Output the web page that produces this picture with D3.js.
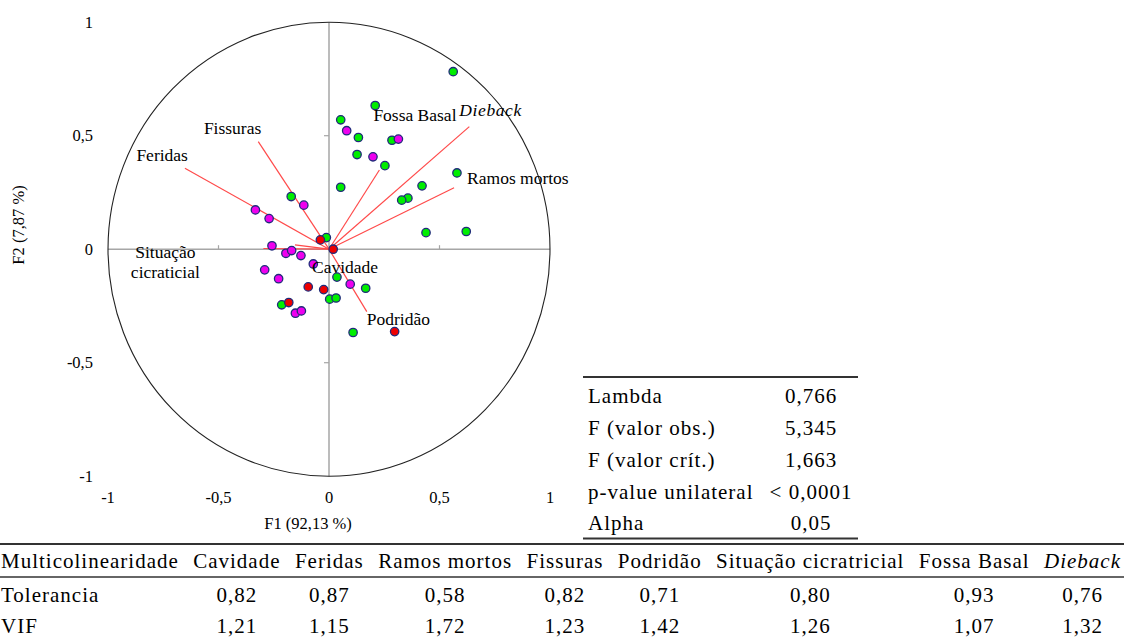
<!DOCTYPE html>
<html>
<head>
<meta charset="utf-8">
<script src="https://cdn.jsdelivr.net/npm/d3@7"></script>
<style>
  body { margin: 0; background: #fff; }
  svg { display: block; }
  text { font-family: "Liberation Serif", "Times New Roman", serif; fill: #000; }
  .tbl { font-size: 21px; letter-spacing: 1px; }
</style>
</head>
<body>
<svg id="chart" width="1124" height="637"></svg>
<script>
// variables (table order) and their loadings on F1 / F2
const variables = ["Cavidade", "Feridas", "Ramos mortos", "Fissuras", "Podridão", "Situação cicratricial", "Fossa Basal", "Dieback"];
const chartLabels = ["Cavidade", "Feridas", "Ramos mortos", "Fissuras", "Podridão", "Situação\ncicraticial", "Fossa Basal", "Dieback"];
const loadF1 = [-0.154, -0.652, 0.566, -0.320, 0.171, -0.297, 0.228, 0.635];
const loadF2 = [0.019, 0.357, 0.271, 0.474, -0.275, 0.003, 0.349, 0.540];

// observations, by group
const greenF1 = [0.562, 0.209, 0.053, 0.133, 0.285, 0.127, 0.253, 0.579, 0.421, 0.357, 0.329, 0.053, 0.439, 0.621, -0.171, -0.012, 0.036, 0.166, 0.003, 0.032, -0.214, 0.109];
const greenF2 = [0.782, 0.633, 0.570, 0.492, 0.480, 0.417, 0.368, 0.336, 0.279, 0.225, 0.216, 0.273, 0.073, 0.078, 0.232, 0.051, -0.123, -0.172, -0.220, -0.215, -0.245, -0.367];
const magentaF1 = [0.080, 0.314, 0.199, -0.114, -0.333, -0.271, -0.258, -0.195, -0.169, -0.127, -0.071, -0.291, -0.228, 0.096, -0.152, -0.125];
const magentaF2 = [0.522, 0.485, 0.407, 0.194, 0.173, 0.135, 0.015, -0.018, -0.006, -0.028, -0.065, -0.091, -0.130, -0.154, -0.282, -0.272];
const redF1 = [-0.039, 0.019, -0.094, -0.024, -0.182, 0.297];
const redF2 = [0.041, 0.000, -0.166, -0.178, -0.235, -0.363];

const axisTicks = [-1, -0.5, 0, 0.5, 1];

// test table
const statNames = ["Lambda", "F (valor obs.)", "F (valor crít.)", "p-value unilateral", "Alpha"];
const statValues = ["0,766", "5,345", "1,663", "< 0,0001", "0,05"];

// multicollinearity table
const tolerancia = ["0,82", "0,87", "0,58", "0,82", "0,71", "0,80", "0,93", "0,76"];
const vif = ["1,21", "1,15", "1,72", "1,23", "1,42", "1,26", "1,07", "1,32"];

// label placement next to vector ends: [dx, dy, anchor]
const labelPlace = [[17, 22, "start"], [3, -13, "end"], [13, -10, "start"], [3, -14, "end"],
                    [0, 7, "start"], [-98, 3, "middle"], [-6, -55, "start"], [-10, -17, "start"]];

const svg = d3.select("#chart");
const fmt = v => String(v).replace(".", ",");

const x = d3.scaleLinear().domain([-1, 1]).range([108, 550]);
const y = d3.scaleLinear().domain([-1, 1]).range([476.2, 22.2]);

// axes through the origin
svg.append("line").attr("x1", x(-1)).attr("x2", x(1)).attr("y1", y(0)).attr("y2", y(0))
  .attr("stroke", "#a6a6a6").attr("stroke-width", 1.5);
svg.append("line").attr("x1", x(0)).attr("x2", x(0)).attr("y1", y(-1)).attr("y2", y(1))
  .attr("stroke", "#a6a6a6").attr("stroke-width", 1.5);
svg.append("g").selectAll("line").data([-0.5, 0.5]).enter().append("line")
  .attr("x1", d => x(d)).attr("x2", d => x(d)).attr("y1", y(0)).attr("y2", y(0) - 4)
  .attr("stroke", "#a6a6a6").attr("stroke-width", 1.2);
svg.append("g").selectAll("line").data([-0.5, 0.5]).enter().append("line")
  .attr("x1", x(0) - 5).attr("x2", x(0)).attr("y1", d => y(d)).attr("y2", d => y(d))
  .attr("stroke", "#a6a6a6").attr("stroke-width", 1.2);

// correlation circle
svg.append("ellipse").attr("cx", x(0)).attr("cy", y(0))
  .attr("rx", x(1) - x(0)).attr("ry", y(-1) - y(0))
  .attr("fill", "none").attr("stroke", "#222").attr("stroke-width", 1.1);

// tick labels
svg.append("g").selectAll("text").data(axisTicks).enter().append("text")
  .attr("x", d => x(d)).attr("y", 497).attr("dy", "0.35em")
  .attr("text-anchor", "middle").attr("font-size", 16.5).text(fmt);
svg.append("g").selectAll("text").data(axisTicks).enter().append("text")
  .attr("x", 93).attr("y", d => y(d)).attr("dy", "0.35em")
  .attr("text-anchor", "end").attr("font-size", 16.5).text(fmt);

// axis titles
svg.append("text").attr("x", 308).attr("y", 523).attr("dy", "0.35em")
  .attr("text-anchor", "middle").attr("font-size", 16.5).text("F1 (92,13 %)");
svg.append("text").attr("transform", "translate(18,225) rotate(-90)").attr("dy", "0.35em")
  .attr("text-anchor", "middle").attr("font-size", 16.5).text("F2 (7,87 %)");

// variable vectors
const vec = variables.map((v, i) => ({ name: chartLabels[i], f1: loadF1[i], f2: loadF2[i], place: labelPlace[i] }));
svg.append("g").selectAll("line").data(vec).enter().append("line")
  .attr("x1", x(0)).attr("y1", y(0))
  .attr("x2", d => x(d.f1)).attr("y2", d => y(d.f2))
  .attr("stroke", "#ff4a4a").attr("stroke-width", 1.2);

// observations
const groups = [
  { f1: greenF1, f2: greenF2, color: "#00ee00" },
  { f1: magentaF1, f2: magentaF2, color: "#ee00ee" },
  { f1: redF1, f2: redF2, color: "#ee0000" }
];
groups.forEach(g => {
  svg.append("g").selectAll("circle").data(g.f1.map((v, i) => [v, g.f2[i]])).enter().append("circle")
    .attr("cx", d => x(d[0])).attr("cy", d => y(d[1])).attr("r", 4.2)
    .attr("fill", g.color).attr("stroke", "#1f2a7a").attr("stroke-width", 1.3);
});

// vector labels
const lab = svg.append("g").selectAll("text").data(vec).enter().append("text")
  .attr("x", d => x(d.f1) + d.place[0]).attr("y", d => y(d.f2) + d.place[1])
  .attr("text-anchor", d => d.place[2]).attr("font-size", 17.5)
  .attr("font-style", d => d.name === "Dieback" ? "italic" : null)
  .attr("letter-spacing", d => d.name === "Dieback" ? 0.6 : null);
lab.each(function (d) {
  const lines = d.name.split("\n");
  d3.select(this).selectAll("tspan").data(lines).enter().append("tspan")
    .attr("x", x(d.f1) + d.place[0])
    .attr("dy", (l, i) => i === 0 ? "0.35em" : "1.15em")
    .text(l => l);
});

// statistics table
const st = svg.append("g");
st.append("line").attr("x1", 583).attr("x2", 858).attr("y1", 377).attr("y2", 377).attr("stroke", "#333").attr("stroke-width", 1.8);
st.append("line").attr("x1", 583).attr("x2", 858).attr("y1", 538.5).attr("y2", 538.5).attr("stroke", "#333").attr("stroke-width", 1.8);
const rowY = d3.scalePoint().domain(statNames).range([396, 523]);
st.selectAll("text.n").data(statNames).enter().append("text").attr("class", "n tbl")
  .attr("x", 588).attr("y", d => rowY(d)).attr("dy", "0.35em").text(d => d);
st.selectAll("text.v").data(statValues).enter().append("text").attr("class", "v tbl")
  .attr("x", 811).attr("y", (d, i) => rowY(statNames[i])).attr("dy", "0.35em")
  .attr("text-anchor", "middle").text(d => d);

// multicollinearity table
const mt = svg.append("g");
mt.append("line").attr("x1", 0).attr("x2", 1124).attr("y1", 544).attr("y2", 544).attr("stroke", "#333").attr("stroke-width", 1.8);
mt.append("line").attr("x1", 0).attr("x2", 1124).attr("y1", 577).attr("y2", 577).attr("stroke", "#333").attr("stroke-width", 1.4);
const headers = ["Multicolinearidade"].concat(variables);
const hText = mt.selectAll("text.h").data(headers).enter().append("text").attr("class", "h tbl")
  .attr("y", 561).attr("dy", "0.35em")
  .attr("font-style", d => d === "Dieback" ? "italic" : null).text(d => d);
const widths = [];
hText.each(function () { widths.push(this.getComputedTextLength()); });
const gap = (1121 - 1 - d3.sum(widths)) / (headers.length - 1);
const colX = [];
let cur = 1;
widths.forEach(w => { colX.push(cur); cur += w + gap; });
hText.attr("x", (d, i) => colX[i]);
const rows = [["Tolerancia", tolerancia, 595], ["VIF", vif, 626]];
rows.forEach(r => {
  mt.append("text").attr("class", "tbl").attr("x", 1).attr("y", r[2]).attr("dy", "0.35em").text(r[0]);
  mt.append("g").selectAll("text").data(r[1]).enter().append("text").attr("class", "tbl")
    .attr("x", (d, i) => colX[i + 1] + widths[i + 1] / 2).attr("y", r[2]).attr("dy", "0.35em")
    .attr("text-anchor", "middle").text(d => d);
});
</script>
</body>
</html>
